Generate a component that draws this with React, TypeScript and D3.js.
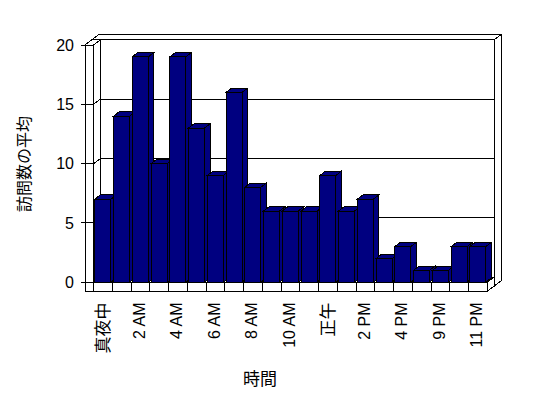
import React from "react";
import * as d3 from "d3";

const categories = [
  "真夜中", "1 AM", "2 AM", "3 AM", "4 AM", "5 AM", "6 AM", "7 AM", "8 AM", "9 AM", "10 AM", "11 AM",
  "正午", "1 PM", "2 PM", "3 PM", "4 PM", "8 PM", "9 PM", "10 PM", "11 PM",
];
const values = [7, 14, 19, 10, 19, 13, 9, 16, 8, 6, 6, 6, 9, 6, 7, 2, 3, 1, 1, 3, 3];
const yTicks = [0, 5, 10, 15, 20];
const yTitle = "訪問数の平均";
const xTitle = "時間";

const W = 548;
const H = 398;
const FONT_LATIN = "'Liberation Sans', Arial, sans-serif";
const FONT_CJK = "'Noto Sans CJK JP', 'Liberation Sans', sans-serif";

export default function App() {
  const x = d3.scaleBand<string>().domain(categories).range([93.6, 487.3]).padding(0);
  const y = d3.scaleLinear().domain([0, 20]).range([282.3, 45]);
  const DX = 7, DY = -5.3; // wall depth offset
  const BDX = 5.5, BDY = -4.3; // bar depth offset
  const leftX = 85, innerX = 93.6, rightX = 487.3;
  const floorBottom = 291.3;
  const y0 = y(0), yTop = y(20);
  const pts = (a: number[][]) => a.map((p) => p.join(",")).join(" ");
  const stroke = { stroke: "#000", strokeWidth: 1, fill: "#fff" };
  const isLatin = (s: string) => /[A-Za-z0-9]/.test(s);

  return (
    <svg width={W} height={H} style={{ position: "absolute", left: 0, top: 0, background: "#fff" }}
      shapeRendering="crispEdges">
      <rect x={0} y={0} width={W} height={H} fill="#fff" />
      {/* back wall slab: top face, right face, front face */}
      <polygon {...stroke} points={pts([[leftX + DX, yTop + DY], [rightX + DX, yTop + DY], [rightX + 2 * DX, yTop + 2 * DY], [leftX + 2 * DX, yTop + 2 * DY]])} />
      <polygon {...stroke} points={pts([[rightX + DX, yTop + DY], [rightX + 2 * DX, yTop + 2 * DY], [rightX + 2 * DX, floorBottom + 2 * DY], [rightX + DX, floorBottom + DY]])} />
      <rect {...stroke} x={leftX + DX} y={yTop + DY} width={rightX - leftX} height={floorBottom - yTop} />
      {/* gridlines on back wall */}
      {yTicks.filter((t) => t > 0 && t < 20).map((t) => (
        <line key={"g" + t} x1={innerX + DX} x2={rightX + DX} y1={y(t) + DY} y2={y(t) + DY} stroke="#000" />
      ))}
      {/* floor slab: top, right, front */}
      <polygon {...stroke} points={pts([[leftX, y0], [rightX, y0], [rightX + DX, y0 + DY], [leftX + DX, y0 + DY]])} />
      <polygon {...stroke} points={pts([[rightX, y0], [rightX + DX, y0 + DY], [rightX + DX, floorBottom + DY], [rightX, floorBottom]])} />
      <rect {...stroke} x={leftX} y={y0} width={rightX - leftX} height={floorBottom - y0} />
      {categories.slice(1).map((c) => (
        <line key={"d" + c} x1={x(c)!} x2={x(c)!} y1={y0} y2={floorBottom} stroke="#000" />
      ))}
      {/* left wall slab: inner face, top, front strip */}
      <polygon {...stroke} points={pts([[innerX, yTop], [innerX + DX, yTop + DY], [innerX + DX, y0 + DY], [innerX, y0]])} />
      <polygon {...stroke} points={pts([[leftX, yTop], [innerX, yTop], [innerX + DX, yTop + DY], [leftX + DX, yTop + DY]])} />
      <rect {...stroke} x={leftX} y={yTop} width={innerX - leftX} height={floorBottom - yTop} />
      {/* tick lines across left wall */}
      {yTicks.map((t) => (
        <g key={"t" + t}>
          <line x1={leftX - 4} x2={innerX} y1={y(t)} y2={y(t)} stroke="#000" />
          {t > 0 && t < 20 && (
            <line x1={innerX} x2={innerX + DX} y1={y(t)} y2={y(t) + DY} stroke="#000" />
          )}
        </g>
      ))}
      {/* bars */}
      {values.map((v, i) => {
        const c = categories[i];
        const bx = x(c)! + 1.2;
        const bw = 16;
        const by = y(v);
        return (
          <g key={"b" + i} fill="#000080" stroke="#000" strokeWidth={1}>
            <polygon points={pts([[bx + bw, by], [bx + bw + BDX, by + BDY], [bx + bw + BDX, y0 + BDY], [bx + bw, y0]])} />
            <polygon points={pts([[bx, by], [bx + bw, by], [bx + bw + BDX, by + BDY], [bx + BDX, by + BDY]])} />
            <rect x={bx} y={by} width={bw} height={y0 - by} />
          </g>
        );
      })}
      {/* y tick labels */}
      {yTicks.map((t) => (
        <text key={"yl" + t} x={74} y={y(t)} dy="0.35em" textAnchor="end" fontSize={16}
          fontFamily={FONT_LATIN} fill="#000">{t}</text>
      ))}
      {/* x labels */}
      {categories.map((c, i) => i % 2 === 0 ? (
        <text key={"xl" + i} transform={`translate(${x(c)! + x.bandwidth() / 2 - 1},302.5) rotate(-90)`}
          textAnchor="end" dominantBaseline="central" fontSize={isLatin(c) ? 16 : 17}
          fontFamily={isLatin(c) ? FONT_LATIN : FONT_CJK} fill="#000">{c}</text>
      ) : null)}
      {/* axis titles */}
      <text transform="translate(23,164) rotate(-90)" textAnchor="middle" dominantBaseline="central"
        fontSize={16} fontFamily={FONT_CJK} fill="#000">{yTitle}</text>
      <text x={260} y={377} textAnchor="middle" dominantBaseline="central" fontSize={17}
        fontFamily={FONT_CJK} fill="#000">{xTitle}</text>
    </svg>
  );
}
